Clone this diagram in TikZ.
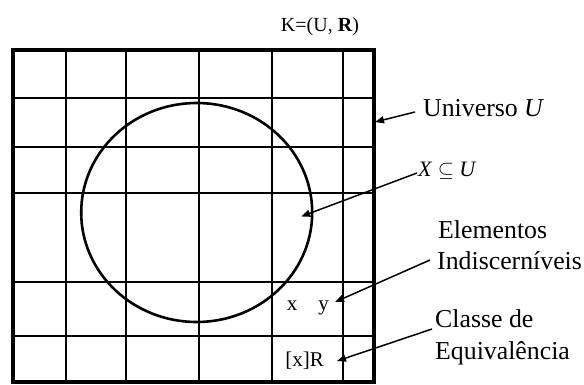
\documentclass[tikz,border=0pt]{standalone}
\usepackage{fontspec}
\setmainfont{Liberation Serif}
\usetikzlibrary{arrows.meta, shapes.geometric, positioning}

\begin{document}
\begin{tikzpicture}[x=1pt, y=-1pt]
        % Knowledge base diagram (universe, grid of classes, set X)
        \tikzset{
          gridline/.style={black, line width=1.3pt},
          border/.style={black, line width=4pt},
          setx/.style={draw, ellipse, line width=2.6pt, inner sep=0, outer sep=0},
          pointer/.style={black, line width=1.5pt, -{Triangle[length=9pt, width=7pt]}},
          caption/.style={font=\fontsize{25.8}{30}\selectfont, inner sep=0},
          cellnote/.style={font=\fontsize{21}{25}\selectfont, inner sep=0}
        }
        \useasboundingbox (0,0) rectangle (584,385);

        % Grid
        \draw[gridline] (66,50) -- (66,382) (126,50) -- (126,382) (199,50) -- (199,382)
                        (272,50) -- (272,382) (343,50) -- (343,382);
        \draw[gridline] (13,98) -- (374,98) (13,147) -- (374,147) (13,193) -- (374,193)
                        (13,282) -- (374,282) (13,336) -- (374,336);

        % Universe
        \draw[border] (13,50) rectangle (374,382);
        \coordinate (utip) at (375,122);

        % Set X
        \node[setx, minimum width=231pt, minimum height=219pt] (setX) at (196.7,212.5) {};

        % Title
        \node[font=\fontsize{20}{24}\selectfont, inner sep=0, anchor=base] (title) at (320,32) {K=(U, \textbf{R})};

        % Labels
        \node[caption, anchor=base west] (universo) at (423,117) {Universo \textit{U}};
        \node[font=\fontsize{22}{26}\selectfont, inner sep=0, anchor=base west] (subset) at (418,177)
             {\textit{X} $\subseteq$ \textit{U}};
        \node[caption, anchor=base west] (elemA) at (438,238) {Elementos};
        \node[caption, anchor=base west] (elemB) at (437,269) {Indiscerníveis};
        \node[caption, anchor=base west] (classA) at (435,327) {Classe de};
        \node[caption, anchor=base west] (classB) at (435,359) {Equivalência};

        % Cell contents
        \node[cellnote, anchor=base east] (xy) at (329,310) {x\quad y};
        \node[cellnote, anchor=base east] (xR) at (324,366) {[x]R};

        % Pointers
        \draw[pointer] ([shift={(-8,-5)}]universo.base west) -- (utip);
        \draw[pointer] ([shift={(-1,-4)}]subset.base west) -- ([shift={(-11,4)}]setX.east);
        \draw[pointer] ([shift={(-7,-9)}]elemB.base west) -- ([shift={(6,-8)}]xy.base east);
        \draw[pointer] ([shift={(-3,2)}]classA.base west) -- ([shift={(13,-5)}]xR.base east);
      \end{tikzpicture}
\end{document}
